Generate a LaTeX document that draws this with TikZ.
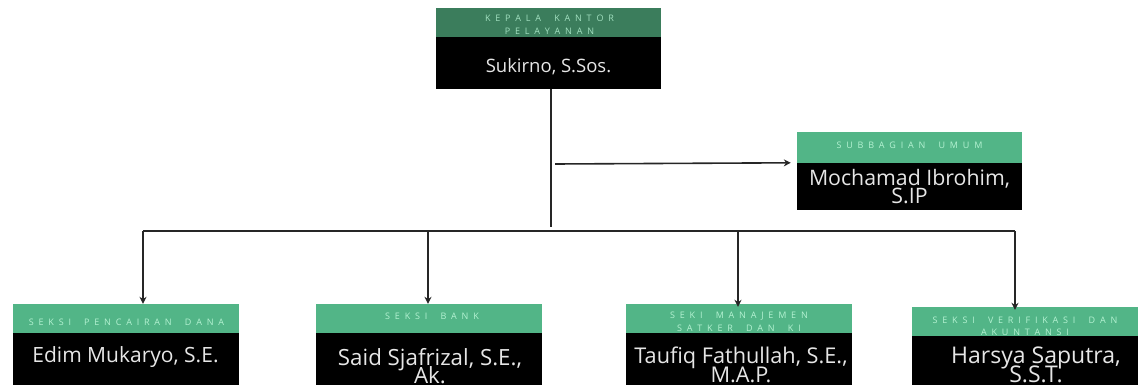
\documentclass[tikz,border=0pt]{standalone}
\usepackage{fontspec}
\setmainfont{Open Sans}
\usetikzlibrary{arrows.meta}
\definecolor{hdrdark}{HTML}{3B7D5C}
\definecolor{hdrlight}{HTML}{52B587}
\definecolor{hdrtext}{HTML}{B4F2D2}
\definecolor{nametext}{HTML}{E6E6E6}
% manual letter spacing
\def\ws{\kern3.6pt}
\newcommand\spc[1]{\spcfirst#1\relax}
\def\spcfirst#1{#1\spcrest}
\def\spcrest#1{\ifx#1\relax\else\kern4.8pt#1\expandafter\spcrest\fi}
\tikzset{
  hdrbox/.style={fill=hdrlight, draw=none, inner sep=0pt, minimum width=226pt, minimum height=29pt},
  bodybox/.style={fill=black, draw=none, inner sep=0pt, minimum width=226pt, minimum height=52pt},
  hdrtxt/.style={anchor=base, inner sep=0pt, text=hdrtext, font=\fontsize{9}{12}\selectfont},
  nametxt/.style={anchor=base, inner sep=0pt, text=nametext},
  conn/.style={line width=1.6pt, draw=black!85},
  arr/.style={conn, -{Stealth[length=7pt,width=7pt]}}
}
\begin{document}
\begin{tikzpicture}[x=1pt,y=-1pt]
\useasboundingbox (0,0) rectangle (1145,385);
% top box
\node[hdrbox, fill=hdrdark, minimum width=225pt] (toph) at (548.5,22.5) {};
\node[bodybox, minimum width=225pt] (topb) at (548.5,63) {};
\node[hdrtxt, text=hdrtext!85!hdrdark] (toph1) at (549.5,21.2) {\spc{KEPALA\ws KANTOR}};
\node[hdrtxt, text=hdrtext!85!hdrdark] (toph2) at (549.5,34.2) {\spc{PELAYANAN}};
\node[nametxt, font=\fontsize{18.5}{18}\selectfont] (topn) at (548.5,73) {Sukirno, S.Sos.};
% subbagian
\node[hdrbox, minimum width=225pt, minimum height=31pt] (subh) at (909.5,147.5) {};
\node[bodybox, minimum width=225pt, minimum height=47pt] (subb) at (909.5,186.5) {};
\node[hdrtxt] (subh1) at (909.5,148.2) {\spc{SUBBAGIAN\ws UMUM}};
\node[nametxt, font=\fontsize{21.3}{18}\selectfont] (subn1) at (909.5,185) {Mochamad Ibrohim,};
\node[nametxt, font=\fontsize{21.3}{18}\selectfont] (subn2) at (909.5,203) {S.IP};
% box 1
\node[hdrbox] (h1) at (125.5,318.5) {};
\node[bodybox] (b1) at (125.5,359) {};
\node[hdrtxt] (h1t) at (126.5,325.2) {\spc{SEKSI\ws PENCAIRAN\ws DANA}};
\node[nametxt, font=\fontsize{21}{18}\selectfont] (b1t) at (125.5,362) {Edim Mukaryo, S.E.};
% box 2
\node[hdrbox] (h2) at (429,318.5) {};
\node[bodybox] (b2) at (429,359) {};
\node[hdrtxt] (h2t) at (432,319.2) {\spc{SEKSI\ws BANK}};
\node[nametxt, font=\fontsize{22.3}{18}\selectfont] (b2t1) at (430,365) {Said Sjafrizal, S.E.,};
\node[nametxt, font=\fontsize{22.3}{18}\selectfont] (b2t2) at (430,383) {Ak.};
% box 3
\node[hdrbox] (h3) at (739,318.5) {};
\node[bodybox] (b3) at (739,359) {};
\node[hdrtxt] (h3t1) at (739,318.2) {\spc{SEKI\ws MANAJEMEN}};
\node[hdrtxt] (h3t2) at (739,331.2) {\spc{SATKER\ws DAN\ws KI}};
\node[nametxt, font=\fontsize{21.7}{18}\selectfont] (b3t1) at (741,363) {Taufiq Fathullah, S.E.,};
\node[nametxt, font=\fontsize{21.7}{18}\selectfont] (b3t2) at (741,382) {M.A.P.};
% box 4
\node[hdrbox] (h4) at (1025,321.5) {};
\node[hdrtxt] (h4t1) at (1025,323.2) {\spc{SEKSI\ws VERIFIKASI\ws DAN}};
\node[hdrtxt] (h4t2) at (1025,335.6) {\spc{AKUNTANSI}};
\node[bodybox, minimum height=49pt] (b4) at (1025,360.5) {};
\node[nametxt, font=\fontsize{23}{18}\selectfont] (b4t1) at (1036,363) {Harsya Saputra,};
\node[nametxt, font=\fontsize{23}{18}\selectfont] (b4t2) at (1036,382) {S.S.T.};
% connectors
\coordinate (j) at (551,227);
\coordinate (l) at (143,231);
\coordinate (r) at (1015,231);
\coordinate (br) at (555,164);
\coordinate (m2) at (428,231);
\coordinate (m3) at (738,231);
\draw[conn] (topb.south -| j) -- (j);
\draw[conn] (l) -- (r);
\draw[arr] (br) -- ([xshift=-6pt]subb.north west);
\draw[arr] (l) -- (h1.north -| l);
\draw[arr] (m2) -- (h2.north -| m2);
\draw[arr] (m3) -- ([yshift=-3pt]h3.north -| m3);
\draw[arr] (r) -- ([yshift=-3pt]h4.north -| r);
\end{tikzpicture}
\end{document}
